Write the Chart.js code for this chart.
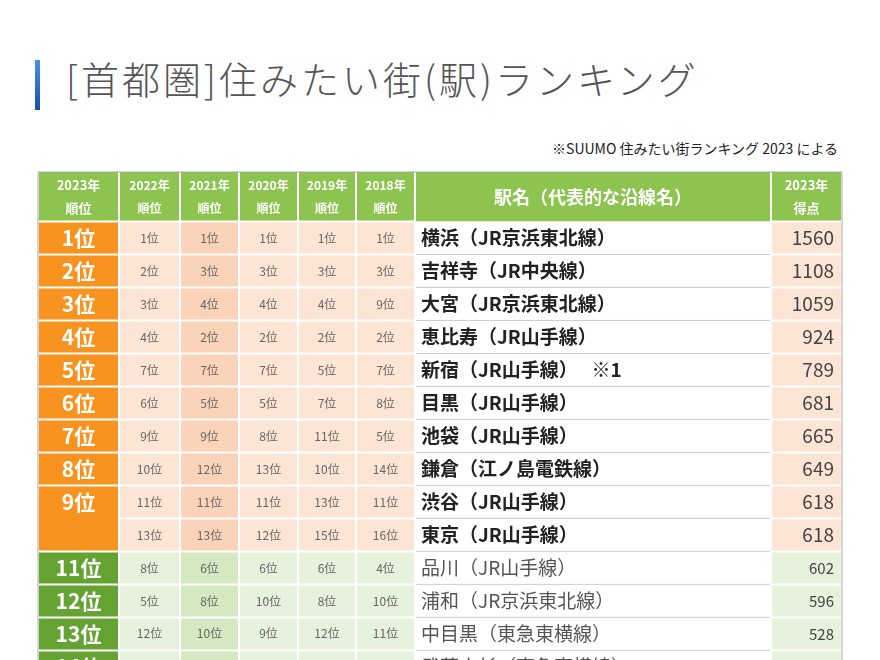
<!DOCTYPE html>
<html><head><meta charset="utf-8">
<script src="https://cdn.jsdelivr.net/npm/chart.js@4"></script>
<style>
body{margin:0;background:#fff;font-family:'Noto Sans CJK JP',sans-serif;}
#wrap{position:relative;width:880px;height:660px;overflow:hidden}
#bar{position:absolute;left:35px;top:60px;width:5px;height:50px;background:linear-gradient(#4a90e2,#1a4fb0)}
#title{position:absolute;left:66px;top:50px;font-size:38px;color:#555;letter-spacing:3px;font-weight:300}
#note{position:absolute;right:42px;top:138px;font-size:14px;color:#222}
canvas{position:absolute;left:0;top:0}
</style></head><body>
<div id="wrap">
<div id="bar"></div>
<div id="title">[首都圏]住みたい街(駅)ランキング</div>
<div id="note">※SUUMO 住みたい街ランキング 2023 による</div>
<canvas id="tbl" width="880" height="660"></canvas>
</div>
<script>
const YEARS = ['2022年','2021年','2020年','2019年','2018年'];
// rank, name, line, past ranks (2022..2018), score
const ROWS = [
  [1,'横浜','（JR京浜東北線）',[1,1,1,1,1],1560],
  [2,'吉祥寺','（JR中央線）',[2,3,3,3,3],1108],
  [3,'大宮','（JR京浜東北線）',[3,4,4,4,9],1059],
  [4,'恵比寿','（JR山手線）',[4,2,2,2,2],924],
  [5,'新宿','（JR山手線）　 ※1',[7,7,7,5,7],789],
  [6,'目黒','（JR山手線）',[6,5,5,7,8],681],
  [7,'池袋','（JR山手線）',[9,9,8,11,5],665],
  [8,'鎌倉','（江ノ島電鉄線）',[10,12,13,10,14],649],
  [9,'渋谷','（JR山手線）',[11,11,11,13,11],618],
  [9,'東京','（JR山手線）',[13,13,12,15,16],618],
  [11,'品川','（JR山手線）',[8,6,6,6,4],602],
  [12,'浦和','（JR京浜東北線）',[5,8,10,8,10],596],
  [13,'中目黒','（東急東横線）',[12,10,9,12,11],528],
  [14,'武蔵小杉','（東急東横線）',[14,14,20,9,9],512]
];
// column edges on x scale
const COLS = [38,119,180,239,298,356,415,771,842];
const F = "'Noto Sans CJK JP', sans-serif";

const tablePlugin = {
  id:'table',
  afterDraw(chart){
    const c = chart.ctx, xs = chart.scales.x, ys = chart.scales.y;
    const X = v => xs.getPixelForValue(v), Y = v => ys.getPixelForValue(v);
    const cell = (x0,x1,y0,y1,fill) => {
      c.fillStyle = fill; c.fillRect(X(x0),Y(y0),X(x1)-X(x0),Y(y1)-Y(y0));
    };
    const txt = (s,x,y,font,color,align) => {
      c.font = font; c.fillStyle = color; c.textAlign = align||'center'; c.textBaseline='middle';
      c.fillText(s,x,y);
    };
    // header
    cell(COLS[0],COLS[8],-1.5,0,'#8cc44f');
    txt('2023年',(X(COLS[0])+X(COLS[1]))/2,Y(-1.1),'bold 13px '+F,'#fff');
    txt('順位',(X(COLS[0])+X(COLS[1]))/2,Y(-0.4),'bold 13px '+F,'#fff');
    YEARS.forEach((y,i)=>{
      const cx=(X(COLS[i+1])+X(COLS[i+2]))/2;
      txt(y,cx,Y(-1.1),'bold 12px '+F,'#fff');
      txt('順位',cx,Y(-0.4),'bold 12px '+F,'#fff');
    });
    txt('駅名（代表的な沿線名）',(X(COLS[6])+X(COLS[7]))/2,Y(-0.75),'bold 18px '+F,'#fff');
    txt('2023年',(X(COLS[7])+X(COLS[8]))/2,Y(-1.1),'bold 13px '+F,'#fff');
    txt('得点',(X(COLS[7])+X(COLS[8]))/2,Y(-0.4),'bold 13px '+F,'#fff');

    ROWS.forEach((r,i)=>{
      const top = r[0]<=10;
      const light = top ? '#fde5d5' : '#e6f2dc';
      const dark  = top ? '#fad3b8' : '#d4e8c1';
      r[3].forEach((v,j)=>{
        cell(COLS[j+1],COLS[j+2],i,i+1,j===1?dark:light);
        txt(v+'位',(X(COLS[j+1])+X(COLS[j+2]))/2,Y(i+0.5),'12px '+F,'#666');
      });
      cell(COLS[6],COLS[7],i,i+1,'#fff');
      const nm = r[1]+r[2];
      txt(nm,X(COLS[6])+6,Y(i+0.5),(top?'bold ':'')+'19px '+F,top?'#222':'#555','left');
      cell(COLS[7],COLS[8],i,i+1,light);
      txt(String(r[4]),X(COLS[8])-8,Y(i+0.5),(top?'19px ':'15px ')+F,'#444','right');
      // row line in name column
      c.strokeStyle='#999';c.lineWidth=1;
      c.beginPath();c.moveTo(X(COLS[6]),Y(i+1));c.lineTo(X(COLS[7]),Y(i+1));c.stroke();
    });
    // rank column (9位 merged over 2 rows)
    let i=0;
    while(i<ROWS.length){
      let span=1; while(i+span<ROWS.length && ROWS[i+span][0]===ROWS[i][0]) span++;
      const top = ROWS[i][0]<=10;
      cell(COLS[0],COLS[1],i,i+span,top?'#f7931e':'#64a332');
      txt(ROWS[i][0]+'位',(X(COLS[0])+X(COLS[1]))/2,Y(i+0.5),'bold 21px '+F,'#fff');
      i+=span;
    }
    // white grid lines
    c.strokeStyle='#fff';c.lineWidth=2;
    COLS.forEach(x=>{c.beginPath();c.moveTo(X(x),Y(-1.5));c.lineTo(X(x),Y(14.6));c.stroke();});
    for(let r=0;r<=ROWS.length;r++){
      if(r===9) continue;
      c.beginPath();c.moveTo(X(COLS[0]),Y(r));c.lineTo(X(COLS[6]),Y(r));c.stroke();
      c.beginPath();c.moveTo(X(COLS[7]),Y(r));c.lineTo(X(COLS[8]),Y(r));c.stroke();
    }
    c.beginPath();c.moveTo(X(COLS[1]),Y(9));c.lineTo(X(COLS[6]),Y(9));c.stroke();
    c.beginPath();c.moveTo(X(COLS[7]),Y(9));c.lineTo(X(COLS[8]),Y(9));c.stroke();
    // outer frame
    c.strokeStyle='#aaa';c.lineWidth=1;
    c.strokeRect(X(COLS[0]),Y(-1.5),X(COLS[8])-X(COLS[0]),Y(14.6)-Y(-1.5));
  }
};

new Chart(document.getElementById('tbl'),{
  type:'scatter',
  data:{datasets:[{data:[]}]},
  options:{responsive:false,animation:false,
    layout:{padding:{left:38,right:38,top:172,bottom:0}},
    plugins:{legend:{display:false},tooltip:{enabled:false}},
    scales:{
      x:{type:'linear',min:38,max:842,display:false},
      y:{type:'linear',min:-1.5,max:13.29,reverse:true,display:false}
    }},
  plugins:[tablePlugin]
});
</script>
</body></html>
